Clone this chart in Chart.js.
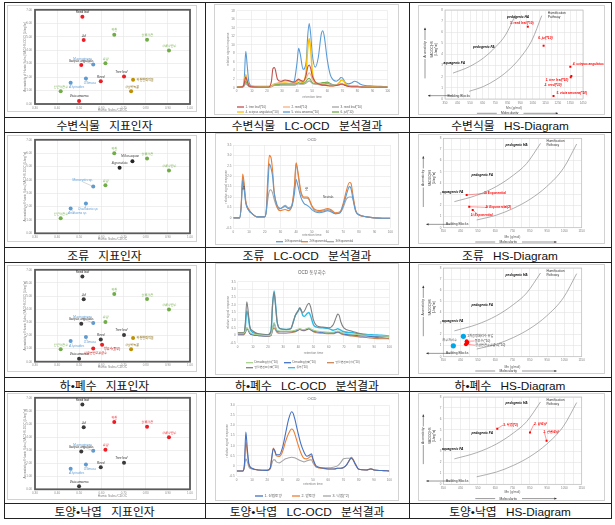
<!DOCTYPE html>
<html><head><meta charset="utf-8">
<script src="https://cdn.jsdelivr.net/npm/chart.js@4.4.1/dist/chart.umd.min.js"></script>
<style>
html,body{margin:0;padding:0;background:#fff}
#wrap{position:relative;width:615px;height:525px;overflow:hidden;background:#fff}
.ln{position:absolute;background:#222}
.cap{position:absolute;display:flex;align-items:center;justify-content:center;font-family:"Liberation Sans","Noto Sans CJK KR",sans-serif;font-size:11.8px;word-spacing:6px;color:#111;white-space:nowrap}
canvas{position:absolute}
</style></head><body><div id="wrap"></div>
<script>
const FONT="'Liberation Sans','Noto Sans CJK KR',sans-serif";
// ================= DATA =================
// --- indicator scatter charts: Humic Subs./CDOC (x) vs aromaticity (y)
const plantNames=["Reed leaf","Juf","Scirpus angulatus","Reed","Tree leaf","Vicia amoena"];
const plantX=[0.514,0.520,0.509,0.597,0.702,0.499];
const plantY=[6.49,4.75,2.90,1.69,2.04,0.23];
const refNames=["하천","상류하천","하류하천수","유입","인근하천수"];
const refX=[0.658,0.806,0.905,0.618,0.416];
const refY=[5.15,4.78,3.98,3.03,0.95];
const algaeNames=["M.aeruginosa","O.limosa","A.spiroides"];
const algaeX=[0.563,0.530,0.461];
const algaeY=[2.94,1.89,1.58];
const sedNames=["하천변퇴적물","하상퇴적물"];
const sedX=[0.743,0.734];
const sedY=[1.80,0.95];
const wwNames=["방류수(동부)","망월변전조유출수"];
const wwX=[0.603,0.563];
const wwY=[1.29,1.01];
const alg4RefY=[6.00,5.60,4.70,3.60,1.12];
const alg4DiaNames=["M.flos-aquae","A.granulata"];
const alg4DiaX=[0.740,0.682];
const alg4DiaY=[5.40,4.90];
const alg4Names=["Microcystis sp.","Oscillatoria sp.","Anabaena sp."];
const alg4Y=[3.50,2.24,1.86];

// --- LC-OCD chromatograms (retention time, relative signal response)
const plantT=[0,4,5,6,7,8,10,15,21,23,24,25,27,29,32,35,38,40,41,42,44,46,47,48,49,50,52,54,56,57,58,60,62,64,66,68,69,70,72,74,76,78,80,82,85,90,95,100];
const treeLeaf=[0.1,0.2,1.0,2.5,1.5,0.5,0.2,0.1,0.1,1.5,4.5,4.7,2.0,1.5,1.8,1.6,1.3,1.8,2.0,1.8,1.5,3.0,4.8,5.3,4.5,2.8,1.4,0.9,0.7,0.6,0.6,0.5,0.4,0.4,0.5,0.7,0.8,0.8,0.5,0.3,0.2,0.2,0.2,0.15,0.1,0.1,0.1,0.1];
const reed=[0.1,0.2,1.0,2.8,1.6,0.5,0.2,0.1,0.1,0.3,0.6,0.9,1.1,1.3,1.6,1.5,1.3,1.5,1.7,1.6,1.5,2.2,3.0,3.5,3.0,2.0,1.2,1.0,0.8,0.8,0.7,0.6,0.5,0.5,0.6,0.7,0.8,0.8,0.5,0.3,0.3,0.3,0.3,0.2,0.15,0.1,0.1,0.1];
const reedLeaf=[0.05,0.1,0.4,1.0,0.6,0.3,0.1,0.1,0.1,0.2,0.4,0.5,0.5,0.6,0.6,0.6,0.6,0.8,0.9,0.8,0.8,1.1,1.4,1.6,1.4,1.0,0.8,0.8,0.9,0.9,0.9,1.0,0.8,0.6,0.6,0.8,0.9,0.9,0.6,0.4,0.3,0.3,0.3,0.2,0.15,0.1,0.1,0.1];
const scirpus=[0.1,0.2,1.0,3.0,1.5,0.5,0.2,0.15,0.15,0.3,0.6,0.8,0.9,1.0,1.1,1.0,1.0,1.5,1.8,1.5,1.2,4.0,9.0,11.5,9.0,4.0,1.2,0.8,0.6,0.6,0.6,0.5,0.5,0.5,0.6,1.2,1.7,1.8,1.0,0.4,0.3,0.3,0.3,0.2,0.2,0.2,0.1,0.1];
const vicia=[0.2,0.3,2.0,8.5,5.0,1.5,0.4,0.3,0.3,0.4,0.6,0.7,0.8,0.9,0.9,1.0,1.5,6.0,9.2,8.0,4.3,6.0,12.0,15.0,12.5,8.0,4.8,7.0,12.5,13.3,12.0,6.5,3.0,1.8,1.5,2.0,2.4,2.3,1.2,0.9,1.1,1.5,1.3,0.8,0.5,0.4,0.3,0.2];
const juf=[0.1,0.2,0.6,1.5,0.9,0.4,0.2,0.1,0.1,0.3,0.6,0.7,0.7,0.8,0.8,0.8,0.8,1.0,1.2,1.0,1.0,1.5,2.0,2.2,1.8,1.2,1.0,1.0,1.1,1.2,1.2,1.3,1.0,0.7,0.6,0.7,0.8,0.8,0.6,0.4,0.3,0.3,0.3,0.2,0.15,0.1,0.1,0.1];

const algT=[0,4,5,6,7,8,10,12,15,20,21,22,23,24,25,26,28,30,33,35,37,39,40,41,43,45,47,48,50,52,55,58,60,62,65,68,70,72,74,75,76,78,80,85,90,95,100];
const alg1=[0,0,0.5,1.8,1.3,0.7,0.35,0.2,0.05,0.05,0.3,1.5,2.6,2.4,2.0,1.2,0.6,0.45,0.55,0.45,0.5,1.2,1.85,1.6,1.0,0.7,0.6,0.55,0.4,0.3,0.25,0.3,0.35,0.3,0.2,0.25,0.6,1.1,1.5,1.4,1.0,0.3,0.15,0.05,0,-0.02,-0.02];
const alg2=[0,0,0.6,2.1,1.6,0.8,0.4,0.2,0.05,0.05,0.4,2.0,3.0,2.9,2.3,1.3,0.5,0.35,0.4,0.35,0.5,1.6,2.65,2.3,1.3,1.0,1.0,0.95,0.6,0.4,0.35,0.4,0.45,0.4,0.25,0.3,0.7,1.3,1.7,1.65,1.2,0.35,0.15,0.05,0,-0.02,-0.02];
const alg3=[0,0,0.5,1.95,1.4,0.7,0.35,0.2,0.05,0.05,0.3,0.9,1.3,1.35,1.2,0.9,0.5,0.45,0.6,0.5,0.55,1.5,2.6,2.2,1.2,0.95,0.95,0.9,0.55,0.35,0.3,0.35,0.4,0.35,0.2,0.25,0.5,0.9,1.0,1.0,0.95,0.35,0.15,0.05,0,-0.02,-0.02];

const wwT=[0,4,5,6,7,8,10,14,20,22,23,24,25,26,28,32,35,37,38,40,41,42,43,44,46,47,48,50,52,56,60,63,65,66,67,68,70,75,80,85,90,95,100];
const wwDenIn=[0.15,0.15,0.25,0.5,0.4,0.2,0.1,0.05,0.0,0.05,0.5,0.85,0.55,0.35,0.3,0.3,0.3,0.33,0.35,0.42,0.45,0.42,0.4,0.4,0.48,0.5,0.45,0.35,0.3,0.25,0.22,0.22,0.28,0.3,0.28,0.22,0.15,0.1,0.05,0.02,0.0,-0.02,-0.05];
const wwDenOut=[0.1,0.1,0.2,0.45,0.35,0.15,0.05,0.0,-0.02,0.02,0.45,0.8,0.5,0.3,0.25,0.25,0.25,0.28,0.3,0.38,0.42,0.38,0.36,0.36,0.42,0.45,0.4,0.3,0.25,0.2,0.18,0.18,0.22,0.25,0.22,0.18,0.1,0.05,0.0,-0.03,-0.05,-0.07,-0.08];
const wwMwIn=[0.05,0.05,0.2,0.5,0.35,0.15,0.05,0.0,-0.05,0.0,0.35,0.5,0.35,0.2,0.15,0.15,0.18,0.22,0.25,0.35,0.4,0.35,0.32,0.32,0.4,0.45,0.38,0.25,0.18,0.15,0.12,0.12,0.18,0.2,0.18,0.12,0.05,-0.02,-0.08,-0.12,-0.18,-0.2,-0.2];
const wwMwOut=[0.2,0.2,0.8,2.2,1.5,0.6,0.3,0.1,0.05,0.3,2.0,2.8,1.9,0.9,0.45,0.4,0.45,1.0,1.3,1.65,1.8,1.6,1.5,1.6,2.0,2.1,1.9,1.0,0.65,0.55,0.5,0.7,1.2,1.4,1.3,0.9,0.5,0.3,0.15,0.0,-0.1,-0.15,-0.2];
const wwDongbu=[0.15,0.15,0.5,1.6,1.2,0.5,0.2,0.1,0.05,0.3,2.0,2.9,2.0,0.9,0.45,0.4,0.45,1.0,1.3,1.6,1.8,1.6,1.3,1.25,1.45,1.5,1.3,0.7,0.55,0.5,0.45,0.35,0.4,0.45,0.4,0.35,0.25,0.2,0.12,0.08,0.05,0.02,-0.02];

const soilT=[0,4,5,6,7,8,10,14,20,22,23,24,25,26,28,30,32,34,36,37,38,40,42,44,46,48,49,50,52,56,60,64,66,68,70,72,74,75,76,78,80,85,88,90,95,100];
const soilForest=[-0.25,-0.25,0,1.67,0.8,0.1,-0.12,-0.2,-0.22,-0.1,0.4,0.85,0.75,0.55,0.55,0.9,1.6,2.3,2.68,2.6,2.35,1.7,1.1,0.7,0.48,0.55,0.6,0.35,0.0,-0.1,-0.15,-0.15,-0.12,-0.12,-0.08,0.05,0.3,0.38,0.33,0.05,-0.17,-0.2,-0.15,-0.2,-0.23,-0.25];
const soilField=[-0.25,-0.25,0,1.18,0.6,0.05,-0.12,-0.2,-0.22,-0.1,0.45,0.88,0.7,0.5,0.47,0.7,1.2,1.6,1.83,1.78,1.6,1.1,0.65,0.38,0.35,0.45,0.5,0.3,-0.05,-0.12,-0.15,-0.15,-0.12,-0.12,-0.08,0.05,0.3,0.42,0.36,0.05,-0.17,-0.2,-0.15,-0.2,-0.23,-0.25];
const soilLitter=[-0.25,-0.25,-0.1,0.35,0.2,-0.05,-0.15,-0.2,-0.22,-0.15,0.1,0.3,0.3,0.2,0.15,0.25,0.35,0.4,0.43,0.42,0.4,0.33,0.25,0.2,0.25,0.3,0.3,0.15,-0.05,-0.1,-0.1,-0.05,0.0,0.15,0.35,0.38,0.38,0.38,0.32,0.05,-0.17,-0.2,-0.13,-0.2,-0.23,-0.25];

// --- HS-Diagram (Mn g/mol vs aromaticity)
const hsUpX=[414,543,658,755,832,912];
const hsUpY=[2.33,2.9,3.7,4.7,5.75,7.55];
const hsLoX=[543,658,755,851,947,1044,1121];
const hsLoY=[0.69,1.13,1.73,2.54,3.67,5.31,7.49];
const hsPlantNames=["3. reed leaf(*10)","6. juf(*10)","4. scirpus angulatus","1. tree leaf(*10)","2. reed(*10)","5. vicia amoena(*10)"];
const hsPlantX=[1010,1136,1349,1357,1352,1215];
const hsPlantY=[6.5,4.79,2.9,2.07,1.95,0.27];
const hsAlgNames=["3t Exponential","2t Exponential(2)","1t Exponential"];
const hsAlgX=[485,500,520];
const hsAlgY=[2.93,1.88,1.58];
const hsWwCyanNames=["1차공정처리수 유입","하수처리수"];
const hsWwCyanX=[466,408];
const hsWwCyanY=[1.84,0.98];
const hsWwRedNames=["동부수(*10)","","망월변전조유출수(*10)"];
const hsWwRedX=[485,489,481];
const hsWwRedY=[1.39,1.27,1.13];
const hsSoilNames=["3. 낙엽(*2)","2. 밭토양","1. 산림토양"];
const hsSoilX=[662,851,947];
const hsSoilY=[5.1,4.75,4.0];

const captions=[["수변식물 지표인자","수변식물 LC-OCD 분석결과","수변식물 HS-Diagram"],
["조류 지표인자","조류 LC-OCD 분석결과","조류 HS-Diagram"],
["하•폐수 지표인자","하•폐수 LC-OCD 분석결과","하•폐수 HS-Diagram"],
["토양•낙엽 지표인자","토양•낙엽 LC-OCD 분석결과","토양•낙엽 HS-Diagram"]];

// ================= LAYOUT =================
const wrap=document.getElementById('wrap');
const colX=[4,205,409,611];
const rowLines=[2,117,132,247,262,377,391,503,518];
function hline(x,y,w,h){const d=document.createElement('div');d.className='ln';Object.assign(d.style,{left:x+'px',top:y+'px',width:w+'px',height:h+'px'});wrap.appendChild(d);}
rowLines.forEach(y=>hline(colX[0],y,colX[3]-colX[0]+1,1));
colX.forEach(x=>hline(x,rowLines[0],1,rowLines[8]-rowLines[0]+1));
captions.forEach((row,r)=>row.forEach((t,c)=>{
  const d=document.createElement('div');d.className='cap';
  Object.assign(d.style,{left:colX[c]+'px',top:rowLines[2*r+1]+'px',width:(colX[c+1]-colX[c])+'px',height:(rowLines[2*r+2]-rowLines[2*r+1])+'px'});
  d.textContent=t;wrap.appendChild(d);
}));

function annot(box,items,frame){
  return {id:'annot',afterDraw(chart){
    const ctx=chart.ctx,xs=chart.scales.x,ys=chart.scales.y,a=chart.chartArea;
    const P=(d,x,y)=>d==='data'?[xs.getPixelForValue(x),ys.getPixelForValue(y)]:
      d==='tpl'?[a.left+(x-350)/800*(a.right-a.left),ys.getPixelForValue(y)]:[x-box.x,y-box.y];
    ctx.save();
    if(frame){ctx.strokeStyle=frame.c;ctx.lineWidth=frame.w;ctx.strokeRect(a.left,a.top,a.right-a.left,a.bottom-a.top);}
    for(const it of items){
      const f=(it.i?'italic ':'')+(it.b?'bold ':'')+(it.f||3.3)+'px '+FONT;
      if(it.t==='text'||it.t==='pl'){
        let x,y;
        if(it.t==='pl'){const el=chart.getDatasetMeta(it.ds).data[it.i];x=el.x;y=el.y;}
        else [x,y]=P(it.d,it.x,it.y);
        const px=x+(it.dx||0),py=y+(it.dy||0);
        if(it.lead){ctx.strokeStyle=it.lc||'#9a9a9a';ctx.lineWidth=0.4;ctx.beginPath();ctx.moveTo(x,y);ctx.lineTo(px+it.lead[0],py+it.lead[1]);ctx.stroke();}
        if(!it.s) continue;
        ctx.font=f;ctx.fillStyle=it.c||'#333';ctx.textAlign=it.a||'center';ctx.textBaseline='middle';
        if(it.r){ctx.save();ctx.translate(px,py);ctx.rotate(it.r*Math.PI/180);ctx.fillText(it.s,0,0);ctx.restore();}
        else ctx.fillText(it.s,px,py);
      } else if(it.t==='line'){
        let [x1,y1]=P(it.d,it.x1,it.y1),[x2,y2]=P(it.d,it.x2,it.y2);
        x1+=it.dx1||0;x2+=it.dx2||0;y1+=it.dy1||0;y2+=it.dy2||0;
        ctx.strokeStyle=it.c||'#333';ctx.lineWidth=it.w||0.6;ctx.beginPath();ctx.moveTo(x1,y1);ctx.lineTo(x2,y2);ctx.stroke();
        if(it.arrow){const ang=Math.atan2(y2-y1,x2-x1),s=it.as||2.5;ctx.fillStyle=it.c||'#333';ctx.beginPath();ctx.moveTo(x2,y2);ctx.lineTo(x2-s*Math.cos(ang-0.45),y2-s*Math.sin(ang-0.45));ctx.lineTo(x2-s*Math.cos(ang+0.45),y2-s*Math.sin(ang+0.45));ctx.closePath();ctx.fill();}
      } else if(it.t==='leg'){
        const [x,y]=P('page',it.x,it.y),len=it.len||7;
        ctx.strokeStyle=it.c;ctx.lineWidth=it.w||1.3;ctx.beginPath();ctx.moveTo(x,y);ctx.lineTo(x+len,y);ctx.stroke();
        ctx.font=f;ctx.fillStyle=it.tc||'#595959';ctx.textAlign='left';ctx.textBaseline='middle';ctx.fillText(it.s,x+len+1.5,y);
      }
    }
    ctx.restore();
  }};
}

function mk(box,plot,cfg,o){
  const cv=document.createElement('canvas');cv.width=box.w;cv.height=box.h;
  Object.assign(cv.style,{left:box.x+'px',top:box.y+'px',outline:'1px solid #d2d2d2',outlineOffset:'-1px'});
  wrap.appendChild(cv);
  const L=plot.l-box.x,T=plot.t-box.y,R=box.x+box.w-plot.r,B=box.y+box.h-plot.b;
  const sx=cfg.options.scales.x,sy=cfg.options.scales.y;
  const xlh=sx.title&&sx.title.display?sx.title.font.size*1.2:0;
  const ylh=sy.title&&sy.title.display?sy.title.font.size*1.2:0;
  const yw=o.yw!=null?o.yw:L-(o.yTitleX-box.x-ylh/2);
  const padB=o.xTitleY!=null?(box.y+box.h)-o.xTitleY-xlh/2:0;
  const xh=B-padB;
  cfg.options.layout={padding:{left:L-yw,top:T,right:R,bottom:padB}};
  sx.afterFit=s=>{s.height=xh;};sy.afterFit=s=>{s.width=yw;};
  Object.assign(cfg.options,{responsive:false,maintainAspectRatio:false,animation:false,devicePixelRatio:1,events:[]});
  cfg.options.plugins={legend:{display:false},tooltip:{enabled:false},title:{display:false}};
  cfg.plugins=[annot(box,o.items||[],o.frame)];
  return new Chart(cv.getContext('2d'),cfg);
}
const tickF={size:3,family:FONT};
// ---------- scatter (indicator) ----------
function scatterChart(box,plot,xTitleY,groups){
  const datasets=groups.map(g=>({data:g.x.map((v,i)=>({x:v,y:g.y[i]})),backgroundColor:g.color,borderColor:g.color,pointRadius:2,pointBorderWidth:0}));
  const items=[];
  groups.forEach((g,gi)=>g.names.forEach((n,i)=>{const o=(g.offs&&g.offs[i])||[0,-4.3];items.push({t:'pl',ds:gi,i,s:n,dx:o[0],dy:o[1],a:o[2]||'center',lead:o[3],c:g.lab,f:3.1});}));
  return mk(box,plot,{type:'scatter',data:{datasets},options:{scales:{
    x:{type:'linear',min:0.3,max:1.0,ticks:{stepSize:0.1,font:tickF,color:'#8c8c8c',padding:2,maxRotation:0,callback:v=>v.toFixed(2)},grid:{color:'#e4e4e4',lineWidth:0.6,drawTicks:false},border:{display:false},title:{display:true,text:'Humic Subs./CDOC',font:{size:3.3,family:FONT},color:'#7f7f7f',padding:0}},
    y:{type:'linear',min:0,max:7,ticks:{stepSize:1,font:tickF,color:'#8c8c8c',padding:3,callback:v=>v.toFixed(2)},grid:{color:'#e4e4e4',lineWidth:0.6,drawTicks:false},border:{display:false},title:{display:true,text:'Aromaticity of Humic Subs.(SAC/HS-DOC) [L/mg*m]',font:{size:3,family:FONT},color:'#7f7f7f',padding:0}}
  }}},{yTitleX:25,xTitleY,frame:{c:'#5a5a5a',w:1.8},items});
}
const RED='#ee1c25',GRN='#70ad47',BLU='#5b9bd5',BRN='#bf9000',BLK='#3a3a3a';
const algaeOffs=[[-10.7,-5.7,'center',[0,1.2]],[4,5,'center',[-3,-1]],[6,4.7,'center',[-4,-1]]];
const sedOffs=[[3.5,0,'left'],[0.7,-4.3]];
const C1X=7,C1W=190;
scatterChart({x:C1X,y:5,w:C1W,h:107},{l:35,t:9,r:190,b:104},110.5,[
  {x:plantX,y:plantY,names:plantNames,color:RED,lab:'#262626',offs:[null,null,null,null,[-2.7,-4.3]]},
  {x:refX,y:refY,names:refNames,color:GRN,lab:GRN},
  {x:algaeX,y:algaeY,names:algaeNames,color:BLU,lab:BLU,offs:algaeOffs},
  {x:sedX,y:sedY,names:sedNames,color:BRN,lab:'#7f6000',offs:sedOffs}]);
scatterChart({x:C1X,y:135,w:C1W,h:107},{l:35,t:139.3,r:190,b:233.3},239,[
  {x:refX,y:alg4RefY,names:refNames,color:GRN,lab:GRN},
  {x:alg4DiaX,y:alg4DiaY,names:alg4DiaNames,color:'#262626',lab:'#404040',offs:[[-2.3,-5],[0,-4.3]]},
  {x:algaeX,y:alg4Y,names:alg4Names,color:BLU,lab:BLU,offs:[[-10.7,-6,'center',[0,1.2]],[2.3,5.7,'center',[-3,-1]],[7,5,'center',[-4,-1]]]}]);
scatterChart({x:C1X,y:265,w:C1W,h:107},{l:35,t:269.3,r:190,b:361.7},367,[
  {x:plantX,y:plantY,names:plantNames,color:BLK,lab:'#262626',offs:[null,null,null,null,[-2.7,-4.3]]},
  {x:refX,y:refY,names:refNames,color:GRN,lab:GRN},
  {x:algaeX,y:algaeY,names:algaeNames,color:BLU,lab:BLU,offs:algaeOffs},
  {x:sedX,y:sedY,names:sedNames,color:BRN,lab:'#7f6000',offs:sedOffs},
  {x:wwX,y:wwY,names:wwNames,color:RED,lab:'#c00000',offs:[[10,4],[2,4.3]]}]);
scatterChart({x:C1X,y:393,w:C1W,h:107},{l:35,t:396.7,r:190,b:489.3},496.5,[
  {x:plantX,y:plantY,names:plantNames,color:BLK,lab:'#262626',offs:[null,null,null,null,[-2.7,-4.3]]},
  {x:refX.slice(0,4),y:refY.slice(0,4),names:refNames.slice(0,4),color:RED,lab:RED},
  {x:algaeX,y:algaeY,names:algaeNames,color:BLU,lab:BLU,offs:algaeOffs}]);

// ---------- LC-OCD ----------
function ocdChart(box,plot,o,ts,series,ymin,ymax,ystep){
  const datasets=series.map(s=>({data:ts.map((x,i)=>({x,y:s.v[i]})),borderColor:s.c,borderWidth:s.w||1.1,pointRadius:0,cubicInterpolationMode:'monotone',fill:false}));
  return mk(box,plot,{type:'line',data:{datasets},options:{scales:{
    x:{type:'linear',min:0,max:100,ticks:{stepSize:10,font:tickF,color:'#7f7f7f',padding:2,maxRotation:0},grid:{color:'#e6e6e6',lineWidth:0.6,drawTicks:false},border:{display:false},title:{display:true,text:'retention time',font:{size:3.2,family:FONT},color:'#7f7f7f',padding:0}},
    y:{type:'linear',min:ymin,max:ymax,ticks:{stepSize:ystep,font:tickF,color:'#7f7f7f',padding:2},grid:{color:'#e6e6e6',lineWidth:0.6,drawTicks:false},border:{display:false},title:{display:true,text:'relative signal response',font:{size:3.2,family:FONT},color:'#7f7f7f',padding:0}}
  }}},o);
}
const C2X=214,C2W=185;
ocdChart({x:C2X,y:4,w:C2W,h:111},{l:236.7,t:10.7,r:387.7,b:87.7},{yTitleX:227.7,xTitleY:97,items:[
  {t:'leg',x:237,y:107,c:'#c0504d',s:'1. tree leaf(*10)',f:3},
  {t:'leg',x:283,y:107,c:'#f4b183',s:'2. reed(*10)',f:3},
  {t:'leg',x:332,y:107,c:'#a5a5a5',s:'3. reed leaf(*10)',f:3},
  {t:'leg',x:237,y:112,c:'#ffc000',s:'4. scirpus angulatus(*10)',f:3},
  {t:'leg',x:283,y:112,c:'#5b9bd5',s:'5. vicia amoena(*10)',f:3},
  {t:'leg',x:332,y:112,c:'#70ad47',s:'6. juf(*10)',f:3}]},
  plantT,[{v:treeLeaf,c:'#c0504d'},{v:reed,c:'#f4b183'},{v:reedLeaf,c:'#a5a5a5'},{v:juf,c:'#70ad47'},{v:scirpus,c:'#ffc000',w:1.5},{v:vicia,c:'#5b9bd5'}],0,18,2);
ocdChart({x:215,y:133,w:184,h:112},{l:233.3,t:145,r:390.3,b:228.3},{yTitleX:225.7,xTitleY:235.3,items:[
  {t:'text',d:'page',x:312,y:140,s:'OCD',f:4,c:'#595959'},
  {t:'text',d:'data',x:6.8,y:1.45,s:'Bio',r:-90,f:2.6,c:'#404040'},
  {t:'text',d:'data',x:47.3,y:1.4,s:'HS',r:-90,f:2.6,c:'#404040'},
  {t:'text',d:'data',x:60.5,y:0.98,s:'Neutrals',f:2.8,c:'#404040'},
  {t:'leg',x:276,y:241.7,c:'#5b9bd5',s:'1t Exponential',f:2.8},
  {t:'leg',x:301,y:241.7,c:'#ed7d31',s:'2t Exponential',f:2.8},
  {t:'leg',x:327,y:241.7,c:'#a5a5a5',s:'3t Exponential',f:2.8}]},
  algT,[{v:alg1,c:'#5b9bd5'},{v:alg2,c:'#ed7d31'},{v:alg3,c:'#a5a5a5'}],-0.5,3.5,0.5);
ocdChart({x:215,y:263,w:184,h:112},{l:237.7,t:281.7,r:389.3,b:343.3},{yTitleX:228.3,xTitleY:352.7,items:[
  {t:'text',d:'page',x:312,y:272.7,s:'OCD 동부하수',f:4.5,c:'#595959'},
  {t:'leg',x:246,y:362.7,c:'#a9d18e',s:'Denuding유입(*10)',f:2.8},
  {t:'leg',x:284,y:362.7,c:'#4472c4',s:'Denuding유출(*10)',f:2.8},
  {t:'leg',x:327,y:362.7,c:'#c9855a',s:'망월변전조유입(*10)',f:2.8},
  {t:'leg',x:246,y:367.7,c:'#7f7f7f',s:'망월변전조유출(*10)',f:2.8},
  {t:'leg',x:288,y:367.7,c:'#2bbbe8',s:'동부(*10)',f:2.8}]},
  wwT,[{v:wwDenIn,c:'#a9d18e'},{v:wwDenOut,c:'#4472c4'},{v:wwMwIn,c:'#c9855a'},{v:wwMwOut,c:'#7f7f7f'},{v:wwDongbu,c:'#2bbbe8',w:1.4}],-0.5,3.5,0.5);
ocdChart({x:215,y:393,w:184,h:108},{l:236.7,t:405.3,r:389.3,b:476},{yTitleX:226.7,xTitleY:484,items:[
  {t:'text',d:'page',x:312,y:399.3,s:'OCD',f:4,c:'#595959'},
  {t:'leg',x:255,y:496,c:'#4472c4',s:'1. 산림토양',f:3.6,len:8},
  {t:'leg',x:292,y:496,c:'#ed7d31',s:'2. 밭토양',f:3.6,len:8},
  {t:'leg',x:323,y:496,c:'#a5a5a5',s:'3. 낙엽(*2)',f:3.6,len:8}]},
  soilT,[{v:soilForest,c:'#4472c4'},{v:soilField,c:'#ed7d31'},{v:soilLitter,c:'#a5a5a5'}],-0.5,3.0,0.5);

// ---------- HS-Diagram ----------
// template annotations are anchored to the plot frame ('tpl': 350..1150 spread over the plot width)
function hsItems(){
  return [
    {t:'text',d:'tpl',x:774,y:7.4,s:'pedogenic HA',b:1,i:1,f:3.3,c:'#000'},
    {t:'text',d:'tpl',x:575,y:4.7,s:'pedogenic FA',b:1,i:1,f:3.3,c:'#000'},
    {t:'text',d:'tpl',x:404,y:3.2,s:'aquagenic FA',b:1,i:1,f:3.3,c:'#000'},
    {t:'text',d:'tpl',x:946,y:7.75,s:'Humification',a:'left',f:3.3,c:'#333'},
    {t:'text',d:'tpl',x:946,y:7.35,s:'Pathway',a:'left',f:3.3,c:'#333'},
    {t:'text',d:'tpl',x:430,y:0.3,s:'Building Blocks',f:3.3,c:'#333'},
    {t:'line',d:'tpl',x1:390,y1:0.3,x2:350,y2:0.3,dx2:-17,arrow:1,c:'#333',w:0.5},
    {t:'text',d:'tpl',x:350,y:4.45,dx:-20,s:'Aromaticity',r:-90,f:3.3,c:'#333'},
    {t:'line',d:'tpl',x1:350,y1:5.3,x2:350,y2:6.4,dx1:-20,dx2:-20,arrow:1,w:0.5},
    {t:'line',d:'tpl',x1:350,y1:3.6,x2:350,y2:1.85,dx1:-20,dx2:-20,w:0.5},
    {t:'text',d:'tpl',x:350,y:4.45,dx:-13,s:'SAC/OC|HS',r:-90,f:3,c:'#333'},
    {t:'text',d:'tpl',x:350,y:4.45,dx:-9,s:'[L/mg*m]',r:-90,f:3,c:'#333'},
    {t:'line',d:'tpl',x1:535,y1:0,x2:650,y2:0,dy1:14.3,dy2:14.3,w:0.5},
    {t:'text',d:'tpl',x:725,y:0,dy:14.3,s:'Molecularity',f:3.3,c:'#333'},
    {t:'line',d:'tpl',x1:805,y1:0,x2:1005,y2:0,dy1:14.3,dy2:14.3,arrow:1,w:0.5}
  ];
}
function hsChart(box,plot,xTitleY,xmax,groups){
  const datasets=[
    {data:hsUpX.map((x,i)=>({x,y:hsUpY[i]})),showLine:true,borderColor:'#8c8c8c',borderWidth:0.7,pointRadius:0,cubicInterpolationMode:'monotone'},
    {data:hsLoX.map((x,i)=>({x,y:hsLoY[i]})),showLine:true,borderColor:'#8c8c8c',borderWidth:0.7,pointRadius:0,cubicInterpolationMode:'monotone'}];
  const items=hsItems();
  groups.forEach((g,gi)=>{
    datasets.push({data:g.x.map((v,i)=>({x:v,y:g.y[i]})),backgroundColor:g.color,borderColor:g.color,pointRadius:g.r||1.5,pointBorderWidth:0,pointStyle:g.ps||'circle'});
    g.names.forEach((n,i)=>{const o=g.offs[i];items.push({t:'pl',ds:gi+2,i,s:n,dx:o[0],dy:o[1],a:o[2]||'center',lead:o[3],lc:g.color,c:g.lab,f:3.2,b:g.bold});});
  });
  return mk(box,plot,{type:'scatter',data:{datasets},options:{scales:{
    x:{type:'linear',min:350,max:xmax,ticks:{stepSize:50,font:tickF,color:'#7f7f7f',padding:2,maxRotation:0,autoSkip:false,callback:v=>((v-350)%100===0?v:'')},grid:{color:'#e2e2e2',lineWidth:0.6,drawTicks:false},border:{display:false},title:{display:true,text:'Mn (g/mol)',font:{size:3.3,family:FONT},color:'#595959',padding:0}},
    y:{type:'linear',min:0,max:8,ticks:{stepSize:1,font:tickF,color:'#7f7f7f',padding:2},grid:{color:'#e2e2e2',lineWidth:0.6,drawTicks:false},border:{display:false}}
  }}},{yw:6,xTitleY,frame:{c:'#bfbfbf',w:0.7},items});
}
const C3X=418,C3W=187;
hsChart({x:C3X,y:5,w:C3W,h:110},{l:445,t:10,r:583,b:99},107.7,1450,[
  {x:hsPlantX,y:hsPlantY,names:hsPlantNames,color:'#ff0000',lab:'#ff0000',bold:1,r:1.4,ps:'rect',
   offs:[[-6,-4],[1.7,-7.3],[2.5,-2.5,'left'],[-14.3,4],[-17.7,8.3],[18.3,-2.7]]}]);
hsChart({x:C3X,y:134,w:C3W,h:110},{l:443.3,t:138.3,r:581.7,b:227.7},237.3,1150,[
  {x:hsAlgX,y:hsAlgY,names:hsAlgNames,color:'#ff0000',lab:'#ff0000',bold:1,r:1.4,ps:'rect',
   offs:[[28.3,-1.7,'center',[-9,0]],[29,0.7,'center',[-11,0]],[9,5.3,'center',[-4,-1]]]}]);
hsChart({x:C3X,y:264,w:C3W,h:110},{l:443.3,t:266.7,r:581.7,b:356.7},366.7,1150,[
  {x:hsWwCyanX,y:hsWwCyanY,names:hsWwCyanNames,color:'#00a6e8',lab:'#404040',r:2.6,
   offs:[[4,0,'left'],[-4,-5.7]]},
  {x:hsWwRedX,y:hsWwRedY,names:hsWwRedNames,color:'#ff0000',lab:'#404040',r:2,
   offs:[[8,-0.3,'left',[0,0]],[0,0],[9,1,'left',[0,0]]]}]);
hsChart({x:C3X,y:393,w:C3W,h:108},{l:443.3,t:395.7,r:581.7,b:484.3},491.7,1150,[
  {x:hsSoilX,y:hsSoilY,names:hsSoilNames,color:'#ff0000',lab:'#ff0000',bold:1,r:1.4,ps:'rect',
   offs:[[6,-3.7,'left',[0,0]],[4,-8.3,'left',[0,0]],[-3.3,-8.3,'left',[1,0]]]}]);
</script></body></html>
